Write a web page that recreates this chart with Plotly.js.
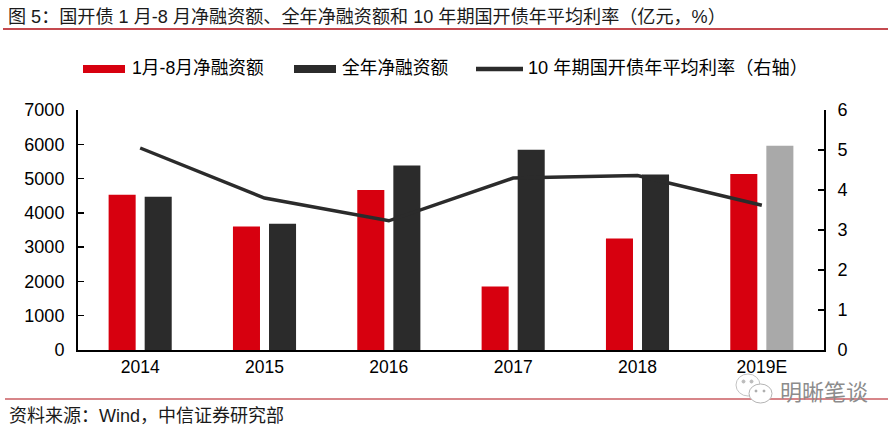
<!DOCTYPE html>
<html><head><meta charset="utf-8">
<script src="https://cdn.plot.ly/plotly-3.0.1.min.js"></script>
<style>html,body{margin:0;padding:0;background:#fff}</style></head><body>
<div id="c" style="width:892px;height:430px"></div>
<script>
const categories=['2014','2015','2016','2017','2018','2019E'];
const partialYear=[4530,3600,4670,1850,3250,5130];
const fullYear=[4470,3680,5380,5840,5120,5960];
const avgRate=[5.05,3.8,3.23,4.3,4.36,3.62];
const fullYearColors=['#2b2b2b','#2b2b2b','#2b2b2b','#2b2b2b','#2b2b2b','#a9a9a9'];
const names=['1月-8月净融资额','全年净融资额','10 年期国开债年平均利率\uFF08右轴\uFF09'];
const leftTicks=[0,1000,2000,3000,4000,5000,6000,7000];
const rightTicks=[0,1,2,3,4,5,6];
const titleText='图 5\uFF1A国开债 1 月-8 月净融资额、全年净融资额和 10 年期国开债年平均利率\uFF08亿元\uFF0C%\uFF09';
const sourceText='资料来源\uFF1AWind\uFF0C中信证券研究部';
const watermark='明晰笔谈';
const W=892,H=430,L=78,R=824,T=110,B=350;
const px=x=>(x-L)/(R-L), py=y=>(B-y)/(B-T);
const FONT='"Liberation Sans","Noto Sans CJK SC",sans-serif';
const txt=(x,y,text,size,color,anchor)=>({xref:'paper',yref:'paper',x:px(x),y:py(y),text,showarrow:false,xanchor:anchor||'left',yanchor:'middle',font:{family:FONT,size,color:color||'#000'}});
const ln=(x0,y0,x1,y1,color,w)=>({type:'line',xref:'paper',yref:'paper',x0:px(x0),y0:py(y0),x1:px(x1),y1:py(y1),line:{color,width:w}});
const oval=(x0,y0,x1,y1,fill,line)=>({type:'circle',xref:'paper',yref:'paper',x0:px(x0),y0:py(y0),x1:px(x1),y1:py(y1),fillcolor:fill,line:{color:line,width:1}});
const data=[
{type:'bar',x:categories,y:partialYear,name:names[0],marker:{color:'#d7000f'}},
{type:'bar',x:categories,y:fullYear,name:names[1],marker:{color:fullYearColors}},
{type:'scatter',mode:'lines',x:categories,y:avgRate,name:names[2],yaxis:'y2',line:{color:'#2b2b2b',width:3.5}}
];
const axisStyle={showgrid:false,zeroline:false,showline:true,linecolor:'#000',linewidth:2,ticks:'inside',ticklen:6,tickwidth:1.5,tickcolor:'#000',tickfont:{size:18},ticklabelstandoff:8};
const layout={
width:W,height:H,margin:{l:L,r:W-R,t:T,b:H-B,pad:0},paper_bgcolor:'#fff',plot_bgcolor:'#fff',showlegend:false,
barmode:'group',bargap:0.42,bargroupgap:0.25,
font:{family:FONT,size:17,color:'#000'},
xaxis:{type:'category',showgrid:false,zeroline:false,showline:true,linecolor:'#000',linewidth:2,ticks:'',tickfont:{size:17.5}},
yaxis:Object.assign({range:[0,7000],tickvals:leftTicks},axisStyle),
yaxis2:Object.assign({range:[0,6],tickvals:rightTicks,overlaying:'y',side:'right'},axisStyle),
shapes:[
ln(3,29,888,29,'#b00d14',1.5),ln(5,399,888,399,'#b00d14',1.2),
{type:'rect',xref:'paper',yref:'paper',x0:px(83),x1:px(125),y0:py(65),y1:py(73),fillcolor:'#d7000f',line:{width:0}},
{type:'rect',xref:'paper',yref:'paper',x0:px(294),x1:px(336),y0:py(65),y1:py(73),fillcolor:'#2b2b2b',line:{width:0}},
ln(476,69,523,69,'#2b2b2b',4.5),
oval(736,374,760,396,'#fff','#c4c4c4'),
oval(749,384,772,403,'#fff','#b4b4b4'),
oval(742,380,745,383,'#bbb','#bbb'),oval(750,380,753,383,'#bbb','#bbb'),
oval(755,390,757,392,'#aaa','#aaa'),oval(763,390,765,392,'#aaa','#aaa')
],
annotations:[
txt(6,17,titleText,18.1,'#1a1a1a'),
txt(130,68,names[0],17.7),txt(340,68,names[1],17.7),txt(526,68,names[2],18.2),
txt(7,416,sourceText,18,'#1a1a1a'),
txt(778,392,watermark,22,'#8c8c8c')
]};
Plotly.newPlot('c',data,layout,{staticPlot:true,displayModeBar:false});
</script></body></html>
